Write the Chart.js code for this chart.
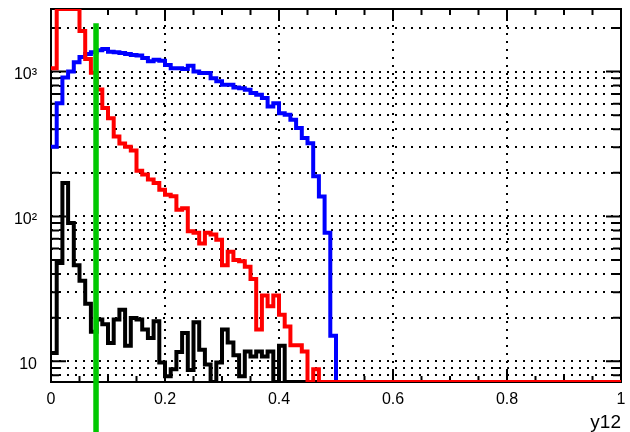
<!DOCTYPE html>
<html>
<head>
<meta charset="utf-8">
<script src="https://cdn.jsdelivr.net/npm/chart.js@4.4.0/dist/chart.umd.min.js"></script>
<style>
  html, body { margin: 0; padding: 0; background: #fff; }
</style>
</head>
<body>
<canvas id="myChart" width="630" height="432"></canvas>
<script>
// ================ DATA (100 bins of 0.01 in y12)
const binWidth = 0.01

const blue = [
  303, 605, 910, 1000, 1160, 1260, 1320, 1360, 1400, 1430,
  1370, 1360, 1340, 1320, 1300, 1290, 1240, 1175, 1205, 1185,
  1110, 1055, 1055, 1040, 1095, 1000, 975, 975, 900, 855,
  810, 810, 775, 765, 748, 710, 690, 656, 574, 605,
  516, 503, 464, 407, 347, 320, 189, 137, 77, 15,
  0, 0, 0, 0, 0, 0, 0, 0, 0, 0,
  0, 0, 0, 0, 0, 0, 0, 0, 0, 0,
  0, 0, 0, 0, 0, 0, 0, 0, 0, 0,
  0, 0, 0, 0, 0, 0, 0, 0, 0, 0,
  0, 0, 0, 0, 0, 0, 0, 0, 0, 0
]

const red = [
  1055, 3500, 3500, 3500, 3500, 1900, 1220, 980, 750, 560,
  475, 356, 318, 302, 285, 207, 195, 180, 170, 153,
  141, 138, 111, 114, 79, 77, 65, 77, 75, 69,
  46, 57, 50, 49, 45, 37, 16.6, 28.5, 24, 28.5,
  21, 17.4, 12.9, 12.9, 11.7, 0, 8.8, 0, 0, 0,
  0, 0, 0, 0, 0, 0, 0, 0, 0, 0,
  0, 0, 0, 0, 0, 0, 0, 0, 0, 0,
  0, 0, 0, 0, 0, 0, 0, 0, 0, 0,
  0, 0, 0, 0, 0, 0, 0, 0, 0, 0,
  0, 0, 0, 0, 0, 0, 0, 0, 0, 0
]

const black = [
  11.4, 47.7, 170, 90, 46, 36, 25, 16, 19.4, 18,
  13.4, 19.4, 22.7, 12.8, 19.9, 19.4, 16.6, 14.5, 18.9, 9.8,
  7.9, 8.8, 11.6, 15.7, 8.7, 18.6, 12, 9.5, 0, 9.8,
  16.6, 13.5, 11, 7.9, 11.7, 10.8, 11.7, 10.8, 11.7, 0,
  12.8, 0, 0, 0, 0, 0, 0, 0, 0, 0,
  0, 0, 0, 0, 0, 0, 0, 0, 0, 0,
  0, 0, 0, 0, 0, 0, 0, 0, 0, 0,
  0, 0, 0, 0, 0, 0, 0, 0, 0, 0,
  0, 0, 0, 0, 0, 0, 0, 0, 0, 0,
  0, 0, 0, 0, 0, 0, 0, 0, 0, 0
]

// cut line
const cutX = 0.079
const cutTop = 2150
const cutBottom = 3

const xTicks = [0, 0.2, 0.4, 0.6, 0.8, 1]
const xMinorTicks = [0, 0.05, 0.1, 0.15, 0.2, 0.25, 0.3, 0.35, 0.4, 0.45, 0.5,
  0.55, 0.6, 0.65, 0.7, 0.75, 0.8, 0.85, 0.9, 0.95, 1]
const yTicks = [8, 9, 10, 20, 30, 40, 50, 60, 70, 80, 90,
  100, 200, 300, 400, 500, 600, 700, 800, 900, 1000, 2000]
const yLabels = { 10: '10', 100: '10²', 1000: '10³' }
const yMin = 7.2
const yMax = 2700

// ================ HELPERS
// histogram as step line, values kept inside the frame like ROOT does
function steps(values) {
  let pts = values.map((v, i) => ({ x: i * binWidth, y: Math.min(Math.max(v, yMin), yMax) }))
  pts.push({ x: values.length * binWidth, y: pts[pts.length - 1].y })
  return pts
}

const frame = {
  id: 'frame',
  beforeDatasetsDraw(chart) {
    const { ctx, chartArea: a, scales: { x, y } } = chart
    ctx.save()
    ctx.strokeStyle = '#000'
    ctx.lineWidth = 2
    ctx.beginPath()
    xMinorTicks.forEach((v, i) => {
      let px = x.getPixelForValue(v)
      let len = i % 4 == 0 ? 12 : 6
      ctx.moveTo(px, a.bottom); ctx.lineTo(px, a.bottom - len)
      ctx.moveTo(px, a.top); ctx.lineTo(px, a.top + len)
    })
    yTicks.forEach(v => {
      let py = y.getPixelForValue(v)
      let len = yLabels[v] ? 15 : 8
      ctx.moveTo(a.left, py); ctx.lineTo(a.left + len, py)
      ctx.moveTo(a.right, py); ctx.lineTo(a.right - len, py)
    })
    ctx.stroke()
    ctx.strokeRect(a.left, a.top, a.right - a.left, a.bottom - a.top)
    ctx.restore()
  }
}

// ================ CHART
const font = { family: '"Liberation Sans", Arial, Helvetica, sans-serif', size: 16 }
const ctx = document.getElementById('myChart')

new Chart(ctx, {
  type: 'line',
  data: {
    datasets: [
      { data: [{ x: cutX, y: cutTop }, { x: cutX, y: cutBottom }], borderColor: '#00c800', borderWidth: 5.5, clip: false },
      { data: steps(red), borderColor: '#ff0000', borderWidth: 4, stepped: 'before' },
      { data: steps(black), borderColor: '#000000', borderWidth: 4, stepped: 'before' },
      { data: steps(blue), borderColor: '#0000ff', borderWidth: 4, stepped: 'before' }
    ]
  },
  options: {
    responsive: false,
    animation: false,
    devicePixelRatio: 1,
    layout: { padding: { top: 9, right: 9, left: 0, bottom: 0 } },
    elements: {
      point: { radius: 0 },
      line: { tension: 0, borderCapStyle: 'butt', borderJoinStyle: 'miter' }
    },
    plugins: { legend: { display: false }, tooltip: { enabled: false } },
    scales: {
      x: {
        type: 'linear',
        min: 0,
        max: 1,
        afterFit(s) { s.height = 50; s.paddingLeft = 0; s.paddingRight = 0 },
        afterBuildTicks(s) { s.ticks = xTicks.map(v => ({ value: v })) },
        ticks: { callback: v => String(v), padding: 8, font: font, color: '#000', maxRotation: 0, autoSkip: false },
        grid: { color: '#000', lineWidth: 2, drawTicks: false },
        border: { display: false, dash: [2, 6] },
        title: {
          display: true, text: 'y12', align: 'end', color: '#000',
          font: { family: font.family, size: 19, lineHeight: 1 },
          padding: { top: 0, bottom: 0 }
        }
      },
      y: {
        type: 'logarithmic',
        min: yMin,
        max: yMax,
        afterFit(s) { s.width = 51; s.paddingTop = 0; s.paddingBottom = 0 },
        afterBuildTicks(s) { s.ticks = yTicks.map(v => ({ value: v })) },
        ticks: { callback: v => yLabels[v] || '', padding: 14, labelOffset: 3, font: font, color: '#000', autoSkip: false },
        grid: { color: '#000', lineWidth: 2, drawTicks: false },
        border: { display: false, dash: [2, 6] }
      }
    }
  },
  plugins: [frame]
})
</script>
</body>
</html>
